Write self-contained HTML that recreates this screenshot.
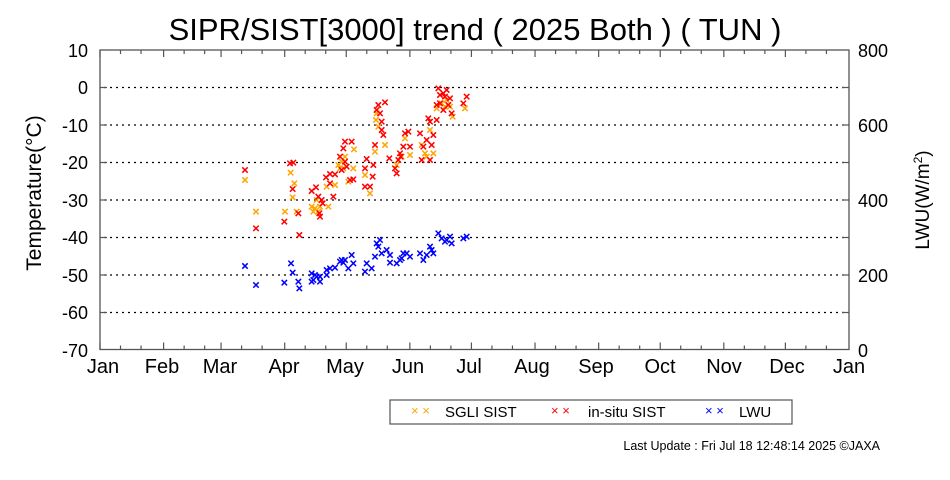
<!DOCTYPE html>
<html><head><meta charset="utf-8"><style>
body{margin:0;background:#fff;}
svg{display:block;font-family:"Liberation Sans",sans-serif;}
</style></head><body>
<svg id="s" width="950" height="480" viewBox="0 0 950 480">
<text x="475" y="40" font-size="31" text-anchor="middle">SIPR/SIST[3000] trend ( 2025 Both ) ( TUN )</text>
<g stroke="#000" stroke-width="1.3" stroke-dasharray="2,4">
<line x1="104" y1="87.5" x2="849" y2="87.5"/>
<line x1="104" y1="125" x2="849" y2="125"/>
<line x1="104" y1="162.5" x2="849" y2="162.5"/>
<line x1="104" y1="200" x2="849" y2="200"/>
<line x1="104" y1="237.5" x2="849" y2="237.5"/>
<line x1="104" y1="275" x2="849" y2="275"/>
<line x1="104" y1="312.5" x2="849" y2="312.5"/>
</g>
<rect x="100" y="50" width="749" height="299.5" fill="none" stroke="#555" stroke-width="1.3"/>
<g id="ticks" stroke="#555" stroke-width="1.2"></g>
<g id="pts"></g>
<g font-size="18" text-anchor="end">
<text x="88" y="57">10</text><text x="88" y="94">0</text><text x="88" y="132">-10</text>
<text x="88" y="169">-20</text><text x="88" y="207">-30</text><text x="88" y="244">-40</text>
<text x="88" y="282">-50</text><text x="88" y="319">-60</text><text x="88" y="357">-70</text>
</g>
<g font-size="18">
<text x="858" y="57">800</text><text x="858" y="132">600</text><text x="858" y="207">400</text>
<text x="858" y="282">200</text><text x="858" y="357">0</text>
</g>
<g font-size="20" text-anchor="middle">
<text x="103" y="373">Jan</text><text x="162" y="373">Feb</text><text x="220" y="373">Mar</text>
<text x="284" y="373">Apr</text><text x="345" y="373">May</text><text x="408" y="373">Jun</text>
<text x="469" y="373">Jul</text><text x="532" y="373">Aug</text><text x="596" y="373">Sep</text>
<text x="660" y="373">Oct</text><text x="724" y="373">Nov</text><text x="787" y="373">Dec</text>
<text x="849" y="373">Jan</text>
</g>
<text transform="translate(41,193) rotate(-90)" font-size="21" text-anchor="middle">Temperature(°C)</text>
<text transform="translate(929,200) rotate(-90)" font-size="19" text-anchor="middle">LWU(W/m<tspan font-size="12" dy="-7">2</tspan><tspan dy="7">)</tspan></text>
<rect x="390" y="400" width="402" height="24" fill="none" stroke="#555" stroke-width="1.2"/>
<g font-size="15">
<text x="445" y="417">SGLI SIST</text><text x="588" y="417">in-situ SIST</text><text x="739" y="417">LWU</text>
</g>
<text x="411" y="415" font-size="13" fill="orange">× ×</text>
<text x="551" y="415" font-size="13" fill="red">× ×</text>
<text x="705" y="415" font-size="13" fill="blue">× ×</text>
<text x="880" y="450" font-size="12.5" text-anchor="end">Last Update : Fri Jul 18 12:48:14 2025  ©JAXA</text>
</svg>
<script>
var R=[[45,270],[78,445],[163,425],[190,248],[180,250],[188,327],[205,400],[208,465],[245,333],[258,322],[265,350],[270,410],[275,360],[288,292],[300,282],[310,350],[315,283],[330,230],[340,205],[345,245],[350,260],[365,185],[360,300],[370,298],[405,265],[410,237],[405,320],[420,320],[430,255],[435,195],[428,290],[445,75],[465,67],[450,100],[455,125],[460,165],[478,235],[500,280],[505,240],[510,220],[520,200],[525,160],[535,155],[540,200],[570,160],[575,240],[580,200],[595,115],[600,125],[590,180],[605,195],[610,165],[625,25],[630,45],[640,40],[650,30],[660,55],[620,75],[640,90],[665,100],[700,70],[710,50],[600,240],[655,75],[630,70],[268,400],[278,370],[335,270],[495,265],[512,230],[440,90],[455,150],[620,120],[645,50],[345,185],[300,310]];
var O=[[45,300],[78,395],[165,395],[182,278],[193,310],[188,352],[200,395],[245,380],[250,395],[265,395],[270,380],[290,320],[295,380],[315,315],[325,255],[340,265],[355,305],[370,265],[372,208],[405,285],[420,340],[435,215],[440,100],[445,140],[465,195],[500,255],[515,230],[525,175],[540,225],[575,195],[585,220],[600,150],[610,220],[620,85],[635,70],[660,80],[668,110],[705,85],[650,60],[645,80],[260,360],[335,245],[345,230],[438,120],[590,230],[255,385],[330,265]];
var B=[[45,558],[78,615],[163,608],[183,550],[188,578],[205,605],[208,625],[245,580],[245,605],[260,590],[270,605],[255,585],[290,570],[300,565],[315,563],[330,545],[345,540],[340,548],[355,565],[365,525],[370,550],[410,550],[405,575],[425,565],[435,530],[440,490],[450,480],[455,520],[470,510],[480,525],[480,548],[500,550],[510,540],[520,520],[530,520],[540,530],[570,520],[580,540],[590,525],[600,500],[610,520],[625,460],[635,475],[650,480],[660,470],[665,490],[700,475],[710,470],[645,485],[515,535],[290,585],[270,590],[445,500],[605,510],[335,540],[250,600]];
var h='';
function add(a,c){a.forEach(function(p){var x=230+p[0]/3,y=80+p[1]/3;
h+='<path d="M'+(x-2.7)+' '+(y-2.7)+'L'+(x+2.7)+' '+(y+2.7)+'M'+(x-2.7)+' '+(y+2.7)+'L'+(x+2.7)+' '+(y-2.7)+'" stroke="'+c+'" stroke-width="1.5"/>';});}
add(O,'orange');add(R,'red');add(B,'blue');
document.getElementById('pts').innerHTML=h;
var t='',md=[0,31,59,90,120,151,181,212,243,273,304,334,365];
function tk(x,l){t+='<line x1="'+x+'" y1="349.5" x2="'+x+'" y2="'+(349.5-l)+'"/><line x1="'+x+'" y1="50" x2="'+x+'" y2="'+(50+l)+'"/>';}
for(var i=0;i<12;i++){var d0=md[i];tk(100+d0*749/365,7);tk(100+(d0+10)*749/365,4);tk(100+(d0+20)*749/365,4);}
for(var j=1;j<8;j++){var y=50+j*37.5;t+='<line x1="100" y1="'+y+'" x2="107" y2="'+y+'"/><line x1="849" y1="'+y+'" x2="842" y2="'+y+'"/>';}
document.getElementById('ticks').innerHTML=t;
</script>
</body></html>
